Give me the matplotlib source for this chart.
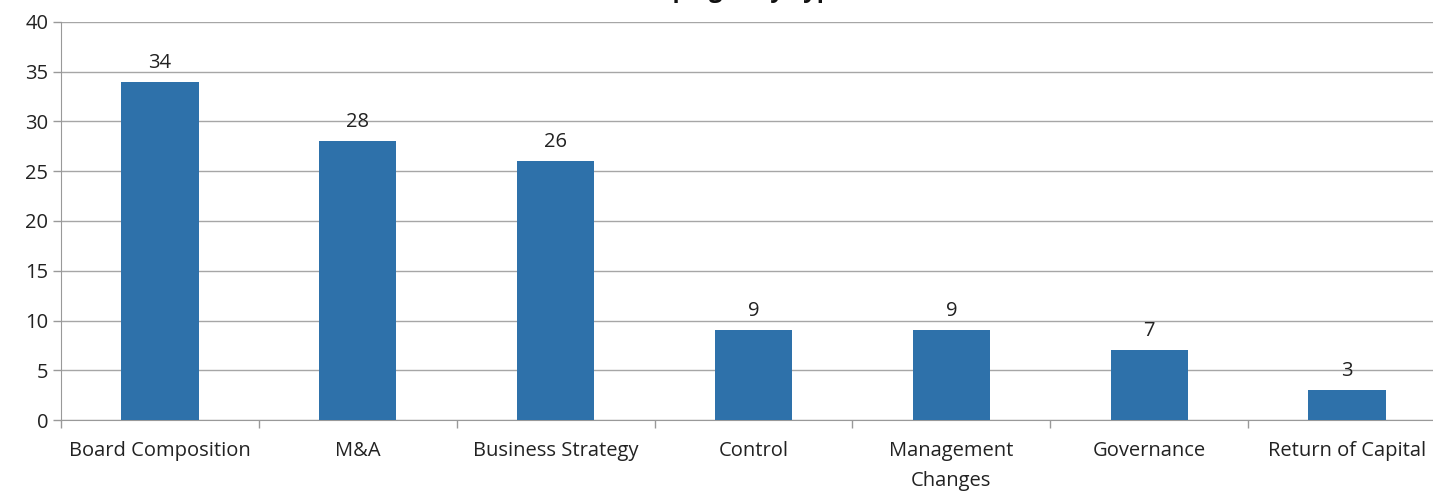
import numpy as np
from matplotlib import pyplot as plt

# Dados
categorias = ["Board Composition", "M&A", "Business Strategy", "Control",
              "Management\nChanges", "Governance", "Return of Capital"]
valores = [34, 28, 26, 9, 9, 7, 3]

plt.rcParams['font.family'] = ['Open Sans', 'DejaVu Sans']

fig = plt.figure(figsize=(14.33, 4.91), dpi=100)
W, H = 1433, 491
x0, x1 = 61, 1446   # eixo passa da borda direita (imagem cortada)
y0, y1 = 420, 22
ax = fig.add_axes([x0 / W, 1 - y0 / H, (x1 - x0) / W, (y0 - y1) / H])

x = np.arange(len(categorias))
barras = ax.bar(x, valores, width=0.39, color='#2E71AA', zorder=3)

for xi, v in zip(x, valores):
    ax.text(xi, v + 0.9, str(v), ha='center', va='bottom', fontsize=14.5, color='#222222')

ax.set_xlim(-0.5, len(categorias) - 0.5)
ax.set_ylim(0, 40)
ax.set_yticks(np.arange(0, 41, 5))
ax.tick_params(axis='y', labelsize=14.5, colors='#222222', length=6, width=1,
               color='#999999', pad=3)
ax.yaxis.grid(True, color='#A6A6A6', linewidth=1, zorder=0)

# ticks do eixo x entre as categorias
ax.set_xticks(x)
ax.set_xticklabels(categorias, fontsize=14.5, color='#222222', linespacing=1.65)
ax.tick_params(axis='x', length=0, pad=15)
ax.set_xticks(np.arange(-0.5, len(categorias), 1), minor=True)
ax.tick_params(axis='x', which='minor', length=6, width=1, color='#999999')

for lado in ['top', 'right']:
    ax.spines[lado].set_visible(False)
ax.spines['left'].set_color('#999999')
ax.spines['bottom'].set_color('#999999')

# titulo cortado no topo da imagem
fig.text(733 / W, 1 + 3 / H, "Campaigns by Type", ha='center', va='baseline',
         fontsize=17, fontweight='bold', color='#111111')

fig.savefig("out.png", dpi=100)
